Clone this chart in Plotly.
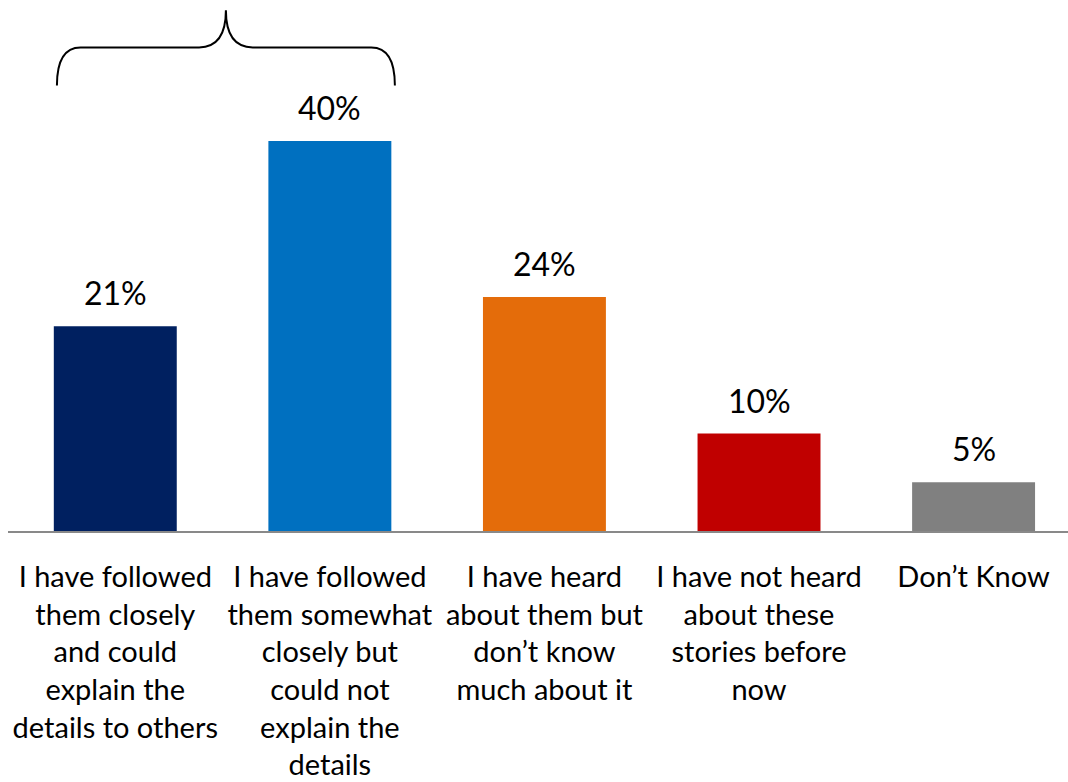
import plotly.graph_objects as go

# Survey responses: how closely people followed the stories
categories = [
    "I have followed<br>them closely<br>and could<br>explain the<br>details to others",
    "I have followed<br>them somewhat<br>closely but<br>could not<br>explain the<br>details",
    "I have heard<br>about them but<br>don’t know<br>much about it",
    "I have not heard<br>about these<br>stories before<br>now",
    "Don’t Know",
]
values = [21, 40, 24, 10, 5]
bar_colors = ["#002060", "#0070C0", "#E46C0A", "#C00000", "#808080"]

FONT = "Lato, Calibri, Carlito, sans-serif"
positions = list(range(len(values)))

fig = go.Figure(
    go.Bar(
        x=positions,
        y=values,
        marker=dict(color=bar_colors, line=dict(width=0)),
        width=0.573,
        hoverinfo="skip",
    )
)

# Value labels above the bars
for xi, v in zip(positions, values):
    fig.add_annotation(
        x=xi, y=v, text=f"{v}%", showarrow=False,
        yanchor="bottom", yshift=12,
        font=dict(family=FONT, size=32, color="#000000"),
    )

# Curly brace grouping the two "followed" answers
x0, x1 = -0.272, 1.303
xm = (x0 + x1) / 2
yb, yh, yt = 45.7, 49.6, 53.4
ex, cx = 0.11, 0.125
brace = (
    f"M {x0},{yb} Q {x0},{yh} {x0 + ex},{yh} "
    f"L {xm - cx},{yh} Q {xm},{yh} {xm},{yt} "
    f"Q {xm},{yh} {xm + cx},{yh} "
    f"L {x1 - ex},{yh} Q {x1},{yh} {x1},{yb}"
)
fig.add_shape(type="path", path=brace, xref="x", yref="y",
              line=dict(color="#000000", width=2))

fig.update_layout(
    width=1068, height=782,
    margin=dict(l=8, r=0, t=0, b=251),
    paper_bgcolor="white", plot_bgcolor="white",
    showlegend=False,
    font=dict(family=FONT, size=29, color="#000000"),
)
fig.update_xaxes(
    range=[-0.5, 4.44],
    tickvals=positions, ticktext=categories,
    showline=True, linecolor="#898989", linewidth=2,
    showgrid=False, zeroline=False, ticks="",
    ticklabelstandoff=19,
    tickfont=dict(family=FONT, size=29, color="#000000"),
    fixedrange=True,
)
fig.update_yaxes(
    range=[0, 54.46], visible=False, showgrid=False, zeroline=False,
    fixedrange=True,
)

fig.write_html("out.html")
